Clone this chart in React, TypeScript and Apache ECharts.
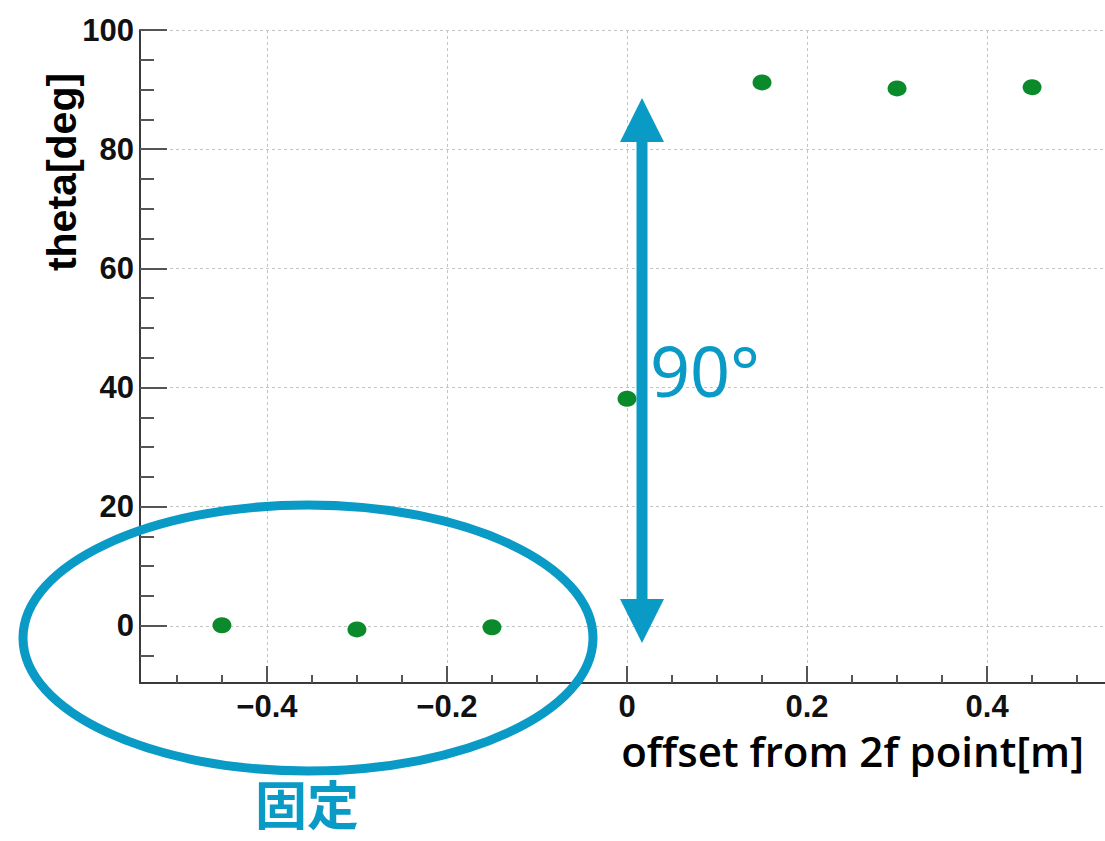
import React, { useEffect, useRef } from "react";
import * as echarts from "echarts";

const offsets = [-0.45, -0.3, -0.15, 0, 0.15, 0.3, 0.45];
const theta = [0.1, -0.6, -0.25, 38.1, 91.2, 90.2, 90.4];

const xMajorTicks = [-0.4, -0.2, 0, 0.2, 0.4];
const xMinorTicks = [-0.5, -0.45, -0.35, -0.3, -0.25, -0.15, -0.1, -0.05, 0.05, 0.1, 0.15, 0.25, 0.3, 0.35, 0.45, 0.5];
const yMajorTicks = [0, 20, 40, 60, 80, 100];
const yMinorTicks = [-5, 5, 10, 15, 25, 30, 35, 45, 50, 55, 65, 70, 75, 85, 90, 95];

const X_MIN = -0.541;
const X_MAX = 0.531;
const Y_MIN = -9.6;
const Y_MAX = 100;

const xTitle = "offset from 2f point[m]";
const yTitle = "theta[deg]";
const angleNote = "90°";
const fixedNote = "固定";

const BLUE = "#0a9ac6";
const GREEN = "#0b8a2c";
const TICK_FONT = "'Liberation Sans', Arial, Helvetica, sans-serif";

const fmt = (v: number) => (v < 0 ? "\u2212" + String(Math.abs(v)) : String(v));

export default function App() {
  const ref = useRef<HTMLDivElement>(null);
  useEffect(() => {
    if (!ref.current) return;
    const chart = echarts.init(ref.current, null, { renderer: "svg" });
    const axisLineStyle = { color: "#3a3a3a", width: 2 };
    const tickStyle = { color: "#555", width: 2 };
    const labelStyle = {
      fontFamily: TICK_FONT,
      fontWeight: "bold" as const,
      fontSize: 31,
      color: "#111",
    };
    const splitStyle = { color: "#c4c4c4", width: 1, type: [3, 3] as any };
    chart.setOption({
      animation: false,
      backgroundColor: "#fff",
      grid: { left: 140, top: 30, right: 0, bottom: 158, containLabel: false },
      xAxis: [
        {
          type: "value",
          min: X_MIN,
          max: X_MAX,
          position: "bottom",
          axisLine: { show: true, onZero: false, lineStyle: axisLineStyle },
          axisTick: { show: true, inside: true, length: 17, lineStyle: tickStyle, customValues: xMajorTicks },
          axisLabel: { show: true, margin: 8, customValues: xMajorTicks, formatter: fmt, ...labelStyle },
          splitLine: { show: true, lineStyle: splitStyle },
        },
        {
          type: "value",
          min: X_MIN,
          max: X_MAX,
          position: "bottom",
          offset: 0,
          axisLine: { show: false, onZero: false },
          axisTick: { show: true, inside: true, length: 8, lineStyle: tickStyle, customValues: xMinorTicks },
          axisLabel: { show: false },
          splitLine: { show: false },
        },
      ],
      yAxis: [
        {
          type: "value",
          min: Y_MIN,
          max: Y_MAX,
          position: "left",
          axisLine: { show: true, onZero: false, lineStyle: axisLineStyle },
          axisTick: { show: true, inside: true, length: 27, lineStyle: tickStyle, customValues: yMajorTicks },
          axisLabel: { show: true, margin: 6, customValues: yMajorTicks, formatter: fmt, ...labelStyle },
          splitLine: { show: true, lineStyle: splitStyle },
        },
        {
          type: "value",
          min: Y_MIN,
          max: Y_MAX,
          position: "left",
          offset: 0,
          axisLine: { show: false, onZero: false },
          axisTick: { show: true, inside: true, length: 14, lineStyle: tickStyle, customValues: yMinorTicks },
          axisLabel: { show: false },
          splitLine: { show: false },
        },
      ],
      series: [
        {
          type: "scatter",
          xAxisIndex: 0,
          yAxisIndex: 0,
          data: offsets.map((x, i) => [x, theta[i]]),
          symbol: "circle",
          symbolSize: [19, 16],
          itemStyle: { color: GREEN, opacity: 1 },
          z: 5,
        },
      ],
      graphic: [
        {
          type: "ellipse",
          z: 20,
          shape: { cx: 308, cy: 638, rx: 285, ry: 133 },
          style: { fill: "transparent", stroke: BLUE, lineWidth: 9 },
        },
        {
          type: "rect",
          z: 20,
          shape: { x: 636.5, y: 138, width: 11, height: 464 },
          style: { fill: BLUE },
        },
        {
          type: "polygon",
          z: 20,
          shape: { points: [[642, 98], [620, 142], [664, 142]] },
          style: { fill: BLUE },
        },
        {
          type: "polygon",
          z: 20,
          shape: { points: [[642, 643], [620, 599], [664, 599]] },
          style: { fill: BLUE },
        },
        {
          type: "text",
          z: 20,
          x: 650,
          y: 370,
          style: {
            text: angleNote,
            fill: BLUE,
            fontSize: 70,
            fontFamily: "'Noto Sans', sans-serif",
            textAlign: "left",
            verticalAlign: "middle",
          },
        },
        {
          type: "text",
          z: 20,
          x: 307,
          y: 802,
          style: {
            text: fixedNote,
            fill: BLUE,
            fontSize: 52,
            fontWeight: "bold",
            fontFamily: "'Noto Sans CJK JP', sans-serif",
            textAlign: "center",
            verticalAlign: "middle",
          },
        },
        {
          type: "text",
          z: 20,
          x: 1084,
          y: 750,
          style: {
            text: xTitle,
            fill: "#000",
            fontSize: 42,
            fontWeight: 600,
            fontFamily: "'Open Sans', 'Noto Sans', sans-serif",
            textAlign: "right",
            verticalAlign: "middle",
          },
        },
        {
          type: "text",
          z: 20,
          x: 62,
          y: 172,
          rotation: Math.PI / 2,
          style: {
            text: yTitle,
            fill: "#000",
            fontSize: 41,
            fontWeight: "bold",
            fontFamily: TICK_FONT,
            textAlign: "center",
            verticalAlign: "middle",
          },
        },
      ],
    });
    return () => chart.dispose();
  }, []);
  return (
    <div
      ref={ref}
      style={{ position: "fixed", left: 0, top: 0, width: 1105, height: 841, background: "#fff" }}
    />
  );
}
